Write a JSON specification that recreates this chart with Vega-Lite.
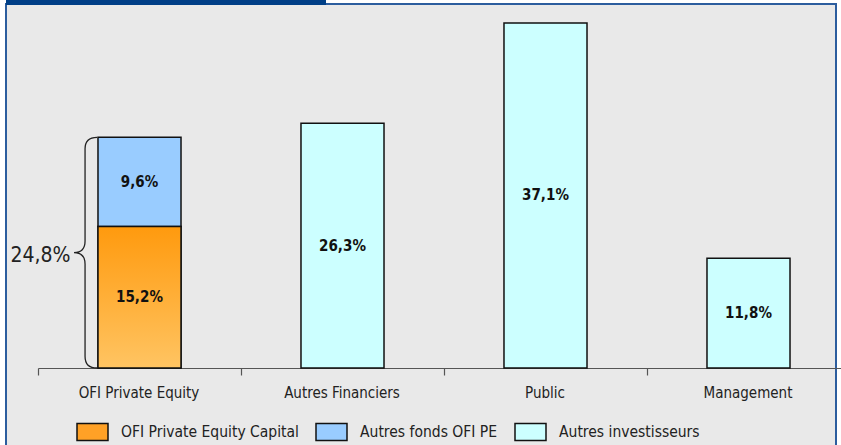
{
  "$schema": "https://vega.github.io/schema/vega-lite/v6.json",
  "autosize": "none",
  "width": 830,
  "height": 443,
  "padding": {"left": 6, "top": 4, "right": 5, "bottom": 0},
  "background": "#ffffff",
  "config": {
    "font": "Liberation Sans Narrow, Arial Narrow, DejaVu Sans Condensed, Roboto, sans-serif",
    "view": {"fill": "#e9e9e9", "stroke": "#2c5d9e", "strokeWidth": 2}
  },
  "datasets": {
    "parts": [
      {"cat": "OFI Private Equity", "serie": "OFI Private Equity Capital", "value": 15.2, "label": "15,2%", "ordre": 1},
      {"cat": "OFI Private Equity", "serie": "Autres fonds OFI PE", "value": 9.6, "label": "9,6%", "ordre": 2},
      {"cat": "Autres Financiers", "serie": "Autres investisseurs", "value": 26.3, "label": "26,3%", "ordre": 1},
      {"cat": "Public", "serie": "Autres investisseurs", "value": 37.1, "label": "37,1%", "ordre": 1},
      {"cat": "Management", "serie": "Autres investisseurs", "value": 11.8, "label": "11,8%", "ordre": 1}
    ],
    "accolade": [
      {"cat": "OFI Private Equity", "total": 24.8, "centre": 12.4, "label": "24,8%"}
    ]
  },
  "layer": [
    {
      "data": {"name": "parts"},
      "transform": [
        {"stack": "value", "groupby": ["cat"], "sort": [{"field": "ordre"}], "as": ["v0", "v1"]}
      ],
      "mark": {"type": "bar", "stroke": "#111111", "strokeWidth": 1.5},
      "encoding": {
        "x": {
          "field": "cat", "type": "nominal",
          "scale": {
            "domain": ["OFI Private Equity", "Autres Financiers", "Public", "Management"],
            "range": [32, 844], "paddingInner": 0.591, "paddingOuter": 0.2955
          },
          "axis": {
            "title": null, "offset": -79, "ticks": true, "bandPosition": 0, "tickOffset": -60, "labelOffset": 59,
            "labelAngle": 0,
            "domainColor": "#555555", "tickColor": "#555555", "tickSize": 7, "tickWidth": 1.2, "domainWidth": 1.2,
            "labelFontSize": 15, "labelColor": "#222222", "labelPadding": 10, "grid": false
          }
        },
        "y": {
          "field": "v0", "type": "quantitative",
          "scale": {"domain": [0, 38.7], "range": [364, 4], "nice": false},
          "axis": null
        },
        "y2": {"field": "v1"},
        "fill": {
          "field": "serie", "type": "nominal",
          "scale": {
            "domain": ["OFI Private Equity Capital", "Autres fonds OFI PE", "Autres investisseurs"],
            "range": ["#ffa126", "#99ccff", "#ccffff"]
          },
          "legend": {
            "orient": "none", "legendX": 70, "legendY": 411, "direction": "horizontal", "columns": 3,
            "title": null, "padding": 0,
            "symbolType": "M-1,-0.55L1,-0.55L1,0.55L-1,0.55Z", "symbolSize": 961,
            "symbolStrokeColor": "#111111", "symbolStrokeWidth": 1.5, "symbolOpacity": 1,
            "labelFontSize": 15.5, "labelLimit": 400, "labelColor": "#222222", "labelOffset": 12, "columnPadding": 14
          }
        }
      }
    },
    {
      "data": {"name": "parts"},
      "transform": [
        {"stack": "value", "groupby": ["cat"], "sort": [{"field": "ordre"}], "as": ["v0", "v1"]},
        {"filter": "datum.serie === 'OFI Private Equity Capital'"}
      ],
      "mark": {
        "type": "bar", "stroke": "#111111", "strokeWidth": 1.5,
        "fill": {
          "gradient": "linear", "x1": 0, "y1": 0, "x2": 0, "y2": 1,
          "stops": [{"offset": 0, "color": "#ff9a0e"}, {"offset": 1, "color": "#ffc462"}]
        }
      },
      "encoding": {
        "x": {"field": "cat", "type": "nominal"},
        "y": {"field": "v0", "type": "quantitative"},
        "y2": {"field": "v1"}
      }
    },
    {
      "data": {"name": "parts"},
      "transform": [
        {"stack": "value", "groupby": ["cat"], "sort": [{"field": "ordre"}], "as": ["v0", "v1"]},
        {"calculate": "(datum.v0 + datum.v1) / 2", "as": "milieu"}
      ],
      "mark": {"type": "text", "fontSize": 15, "fontWeight": "bold", "color": "#111111", "baseline": "middle"},
      "encoding": {
        "x": {"field": "cat", "type": "nominal"},
        "y": {"field": "milieu", "type": "quantitative"},
        "text": {"field": "label"}
      }
    },
    {
      "data": {"name": "accolade"},
      "mark": {
        "type": "point", "filled": false, "stroke": "#222222", "strokeWidth": 1.3, "opacity": 1,
        "size": 53222,
        "shape": "M-0.368,-1Q-0.472,-1,-0.472,-0.9L-0.472,-0.1Q-0.472,0,-0.568,0Q-0.472,0,-0.472,0.1L-0.472,0.9Q-0.472,1,-0.368,1"
      },
      "encoding": {
        "x": {"field": "cat", "type": "nominal"},
        "y": {"field": "centre", "type": "quantitative"}
      }
    },
    {
      "data": {"name": "accolade"},
      "mark": {"type": "text", "fontSize": 21, "color": "#222222", "align": "right", "baseline": "middle", "dx": -69, "dy": 3},
      "encoding": {
        "x": {"field": "cat", "type": "nominal"},
        "y": {"field": "centre", "type": "quantitative"},
        "text": {"field": "label"}
      }
    },
    {
      "data": {"values": [{}]},
      "mark": {"type": "rule", "color": "#003f87", "strokeWidth": 5},
      "encoding": {
        "x": {"value": 0},
        "x2": {"value": 320},
        "y": {"value": -1.5}
      }
    }
  ]
}
